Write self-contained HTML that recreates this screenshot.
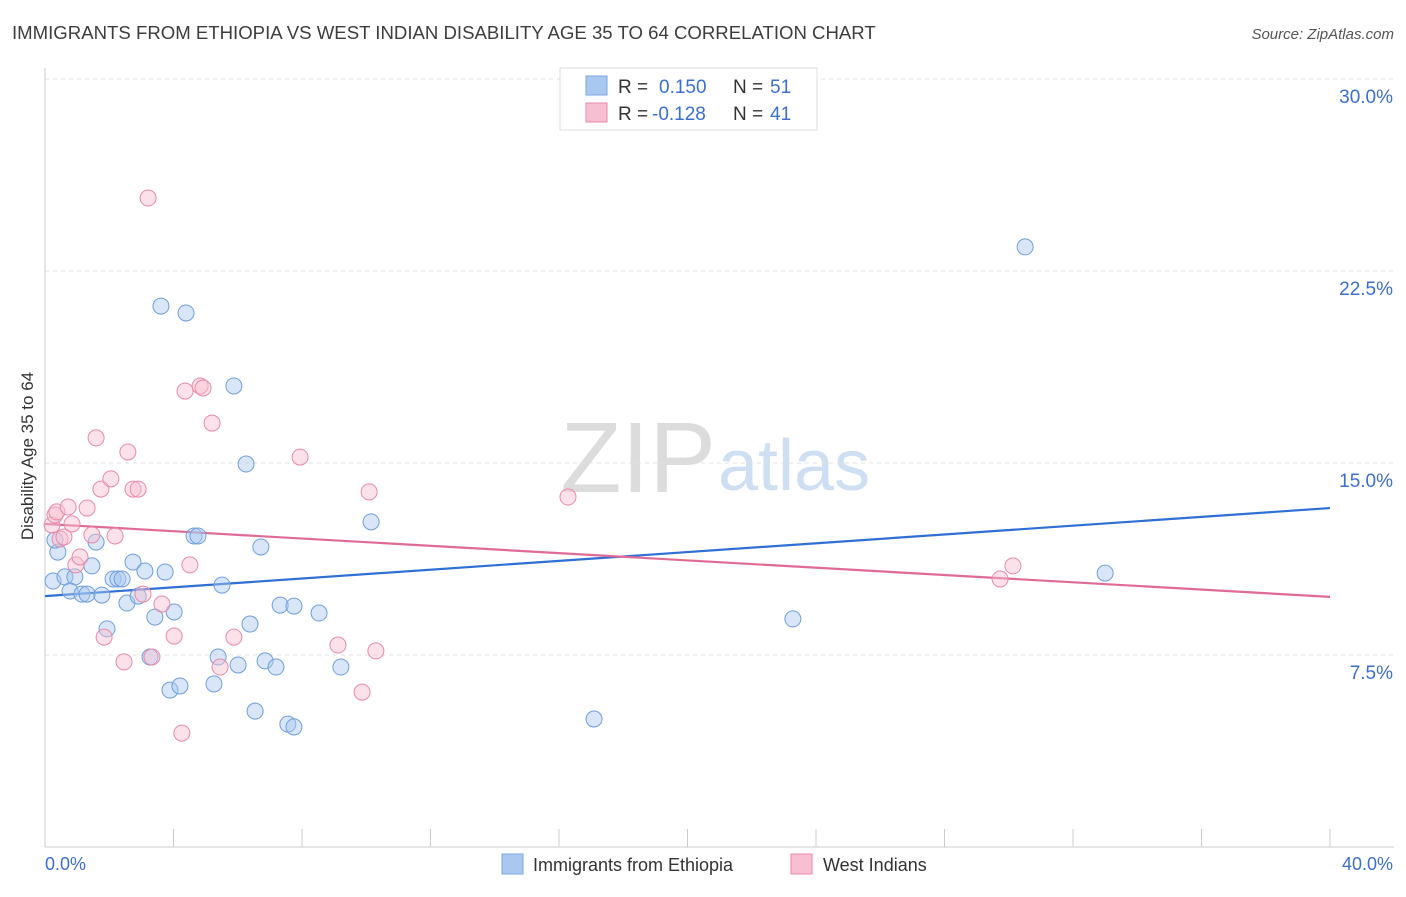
<!DOCTYPE html>
<html><head><meta charset="utf-8">
<style>
body{margin:0;background:#fff;font-family:"Liberation Sans",sans-serif;}
svg text{font-family:"Liberation Sans",sans-serif;}
</style></head>
<body>
<svg id="chart" width="1406" height="892" xmlns="http://www.w3.org/2000/svg">
<text x="12" y="39" font-size="18.6" fill="#3d3d3d">IMMIGRANTS FROM ETHIOPIA VS WEST INDIAN DISABILITY AGE 35 TO 64 CORRELATION CHART</text>
<text x="1394" y="39" font-size="15" fill="#555" font-style="italic" text-anchor="end">Source: ZipAtlas.com</text>
<text x="716" y="492" font-size="100" fill="#dcdcdc" text-anchor="end" font-family="Liberation Serif">ZIP</text>
<text x="718" y="490" font-size="72" fill="#cfdff3">atlas</text>
<text transform="translate(33,456) rotate(-90)" font-size="17" fill="#333" text-anchor="middle">Disability Age 35 to 64</text>
<g id="grid"></g>
<g id="axes"></g>
<g id="lines"></g>
<g id="points"></g>
<g>
<rect x="560" y="68" width="257" height="62" fill="#fff" stroke="#ddd"/>
<rect x="586" y="76" width="21" height="19" fill="#a9c8f0" stroke="#7aa6e0"/>
<rect x="586" y="103" width="21" height="19" fill="#f7bfd1" stroke="#e889a9"/>
<text x="618" y="93" font-size="19" fill="#333">R = </text><text x="659" y="93" font-size="19" fill="#3b6fd0">0.150</text>
<text x="733" y="93" font-size="19" fill="#333">N = </text><text x="770" y="93" font-size="19" fill="#3b6fd0">51</text>
<text x="618" y="120" font-size="19" fill="#333">R = </text><text x="652" y="120" font-size="19" fill="#3b6fd0">-0.128</text>
<text x="733" y="120" font-size="19" fill="#333">N = </text><text x="770" y="120" font-size="19" fill="#3b6fd0">41</text>
</g>
<g>
<rect x="502" y="854" width="21" height="20" fill="#a9c8f0" stroke="#7aa6e0"/>
<text x="533" y="871" font-size="18" fill="#333">Immigrants from Ethiopia</text>
<rect x="791" y="854" width="21" height="20" fill="#f7bfd1" stroke="#e889a9"/>
<text x="823" y="871" font-size="18" fill="#333">West Indians</text>
</g>
</svg>
<script>
const yTicks=[7.5,15,22.5,30];
const yTickLabels=["7.5%","15.0%","22.5%","30.0%"];
const xTicks=[0,4,8,12,16,20,24,28,32,36,40];
const blueX=[0.25,0.4,0.31,0.62,0.93,0.78,1.15,1.31,1.46,1.59,1.77,1.93,2.12,2.27,2.4,2.55,2.74,2.9,3.11,3.27,3.42,3.61,3.74,3.89,4.02,4.2,4.39,4.64,4.76,5.26,5.39,5.51,5.88,6.01,6.26,6.38,6.54,6.72,6.85,7.19,7.32,7.56,7.75,7.75,8.53,9.21,10.15,17.09,23.28,30.51,33.0];
const blueY=[10.39,11.52,11.99,10.55,10.55,10.0,9.88,9.88,10.98,11.91,9.84,8.52,10.47,10.47,10.47,9.53,11.13,9.8,10.78,7.42,8.98,21.13,10.74,6.13,9.18,6.29,20.86,12.15,12.15,6.37,7.42,10.23,18.01,7.11,14.96,8.71,5.31,11.72,7.27,7.03,9.45,4.8,4.69,9.41,9.14,7.03,12.7,5.0,8.91,23.44,10.7];
const pinkX=[0.22,0.31,0.37,0.47,0.59,0.72,0.84,0.96,1.09,1.31,1.46,1.59,1.74,1.84,2.05,2.18,2.46,2.58,2.74,2.9,3.05,3.21,3.33,3.64,4.02,4.36,4.51,4.83,4.92,5.2,5.45,5.88,4.26,7.94,9.12,9.87,10.09,10.3,16.28,29.73,30.13];
const pinkY=[12.58,12.97,13.09,12.03,12.11,13.28,12.62,11.02,11.33,13.24,12.19,15.98,13.98,8.2,14.38,12.15,7.23,15.43,13.98,13.98,9.88,25.35,7.42,9.49,8.24,17.81,11.02,18.01,17.93,16.56,7.03,8.2,4.45,15.23,7.89,6.05,13.87,7.66,13.67,10.47,10.98];
const blueLine=[9.8,13.24], pinkLine=[12.62,9.77];
const NS="http://www.w3.org/2000/svg";
const X0=45,X1=1330,Y0=847,PPY=25.6;
function sx(v){return X0+(X1-X0)*v/40;}
function sy(v){return Y0-v*PPY;}
function mk(tag,attrs,parent){const e=document.createElementNS(NS,tag);for(const k in attrs)e.setAttribute(k,attrs[k]);document.getElementById(parent).appendChild(e);return e;}
yTicks.forEach((t,i)=>{
 const l=mk('line',{x1:X0,x2:1394,y1:sy(t),y2:sy(t),stroke:'#e2e2e2','stroke-dasharray':'4,4'},'grid');
 
 
 const tx=mk('text',{x:1393,y:sy(t)+24,'font-size':19,fill:'#3b6fd0','text-anchor':'end'},'grid');
 tx.textContent=yTickLabels[i];
 
 
});
const ax=mk('line',{x1:X0,x2:X0,y1:68,y2:Y0,stroke:'#ccc'},'axes');


const bx=mk('line',{x1:X0,x2:1394,y1:Y0,y2:Y0,stroke:'#ccc'},'axes');


xTicks.forEach(t=>{
 const l=mk('line',{x1:sx(t),x2:sx(t),y1:829,y2:Y0,stroke:'#ccc'},'axes');
 
 
});
[["0.0%",X0,'start'],["40.0%",1393,'end']].forEach(a=>{
 const t=mk('text',{x:a[1],y:870,'font-size':18,fill:'#3b6fd0','text-anchor':a[2]},'axes');
 t.textContent=a[0];
 
 
});
function pts(xs,ys,fill,stroke,name){
 xs.forEach((x,i)=>{
  const c=mk('circle',{cx:sx(x),cy:sy(ys[i]),r:8,fill:fill,'fill-opacity':0.45,stroke:stroke,'stroke-width':1},'points');
  
  
 });
}
pts(blueX,blueY,'#a9c8f0','#6f9edc','ethiopia-point');
pts(pinkX,pinkY,'#f7bfd1','#e889a9','west-indian-point');
const bl=mk('line',{x1:sx(0),x2:sx(40),y1:sy(blueLine[0]),y2:sy(blueLine[1]),stroke:'#2f6fd6','stroke-width':2.2},'lines');


const pl=mk('line',{x1:sx(0),x2:sx(40),y1:sy(pinkLine[0]),y2:sy(pinkLine[1]),stroke:'#e06b96','stroke-width':2.2},'lines');


</script>
</body></html>
